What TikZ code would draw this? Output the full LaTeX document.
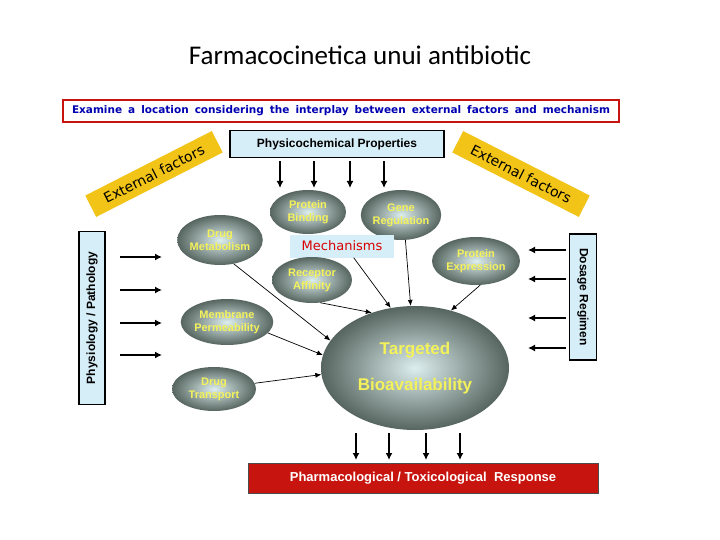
\documentclass[tikz,border=0pt]{standalone}
\usepackage{fontspec}
\setmainfont{Liberation Sans}
\newfontfamily\titlefont{Carlito}
\newfontfamily\comicfont{DejaVu Sans}
\usetikzlibrary{arrows.meta,shapes.geometric}
\definecolor{lblue}{HTML}{D6EEF8}
\definecolor{ylw}{HTML}{F2C418}
\definecolor{txtyel}{HTML}{F4F25A}
\definecolor{ellout}{HTML}{56655F}
\definecolor{ellin}{HTML}{DCEEEE}
\definecolor{redbox}{HTML}{C8140E}
\tikzset{
  ell/.style={ellipse,shading=radial,inner color=ellin,outer color=ellout,draw=none,
    font=\bfseries\fontsize{11}{13}\selectfont,text=txtyel,align=center,inner sep=0pt},
  bluebox/.style={draw=black,line width=1.6pt,fill=lblue,font=\bfseries\fontsize{12}{14}\selectfont,inner sep=0pt},
  ylwband/.style={fill=ylw,font=\comicfont\fontsize{14}{16}\selectfont,inner sep=0pt,minimum height=24pt,minimum width=142pt},
  arr/.style={-{Latex[length=7pt,width=7pt]},line width=1.6pt},
  conn/.style={-{Latex[length=6pt,width=5pt]},line width=0.7pt}
}
\begin{document}
\begin{tikzpicture}[x=1pt,y=-1pt]
\useasboundingbox[fill=white] (0,0) rectangle (720,540);
\node[font=\titlefont\fontsize{27}{30}\selectfont] (title) at (360,55) {Farmacocinetica unui antibiotic};
% top banner
\node[draw=redbox,line width=1.6pt,fill=white,minimum width=556pt,minimum height=22pt,inner sep=0pt,
  text=blue!70!black,font=\comicfont\bfseries\fontsize{10.5}{11}\selectfont] (banner) at (341,111)
  {\makebox[538pt][s]{Examine a location considering the interplay between external factors and mechanism}};
\node[bluebox,minimum width=214pt,minimum height=27pt] (pp) at (337,144) {Physicochemical Properties};
% external factor bands
\node[ylwband,rotate=27] (ef1) at (154,174) {External factors};
\node[ylwband,rotate=-27] (ef2) at (521,174) {External factors};
% side boxes
\node[bluebox,minimum width=173pt,minimum height=26pt,rotate=90] (phys) at (92,318) {Physiology / Pathology};
\node[bluebox,minimum width=126pt,minimum height=27pt,rotate=-90] (dose) at (583,297) {Dosage Regimen};
% ellipses
\node[ell,minimum width=84pt,minimum height=50pt] (dm) at (220,240) {Drug\\Metabolism};
\node[ell,minimum width=76pt,minimum height=44pt] (pb) at (308,212) {Protein\\Binding};
\node[ell,minimum width=78pt,minimum height=50pt] (gr) at (401,215) {Gene\\Regulation};
\node[draw=none,fill=lblue,minimum width=104pt,minimum height=23pt,inner sep=0pt,text=red!85!black,
  font=\comicfont\fontsize{13}{15}\selectfont] (mech) at (342,246) {Mechanisms};
\node[ell,minimum width=80pt,minimum height=46pt] (ra) at (312,280) {Receptor\\Affinity};
\node[ell,minimum width=88pt,minimum height=48pt] (pe) at (476,261) {Protein\\Expression};
\node[ell,minimum width=88pt,minimum height=46pt] (mp) at (227,322) {Membrane\\Permeability};
\node[ell,minimum width=84pt,minimum height=44pt] (dt) at (214,389) {Drug\\Transport};
\node[ell,minimum width=188pt,minimum height=124pt,font=\bfseries\fontsize{17}{36}\selectfont] (tb) at (415,368) {Targeted\\Bioavailability};
\node[draw=black!70,line width=1pt,fill=redbox,minimum width=350pt,minimum height=30pt,inner sep=0pt,
  text=white,font=\bfseries\fontsize{13}{15}\selectfont] (resp) at (423,478) {Pharmacological / Toxicological\ \ Response};
% arrows from top box
\foreach \x/\n in {280/a,314/b,350/c,384/d}{
  \coordinate (pt\n) at (\x,188);
  \draw[arr] (pp.south -| pt\n) ++(0,3) -- (pt\n);}
% arrows to response
\foreach \x/\n in {356/a,389/b,426/c,460/d}{
  \coordinate (rt\n) at (\x,460);
  \draw[arr] (\x,433) -- (rt\n);}
% left arrows
\foreach \y/\n in {257/a,290/b,323/c,355/d}{
  \coordinate (ls\n) at (120,\y); \coordinate (le\n) at (162,\y);
  \draw[arr] (ls\n) -- (le\n);}
% right arrows
\foreach \y/\n in {250/a,279/b,318/c,348/d}{
  \coordinate (rs\n) at (566,\y); \coordinate (re\n) at (528,\y);
  \draw[arr] (rs\n) -- (re\n);}
% connectors
\draw[conn] (dm.-60) -- (tb.162);
\draw[conn] (mp.-15) -- (tb.172);
\draw[conn] (dt.8) -- (tb.184);
\draw[conn] (ra.-70) -- (tb.128);
\draw[conn] (mech.-45) -- (tb.112);
\draw[conn] (gr.-80) -- (tb.94);
\draw[conn] (pe.-80) -- (tb.58);
\end{tikzpicture}
\end{document}
